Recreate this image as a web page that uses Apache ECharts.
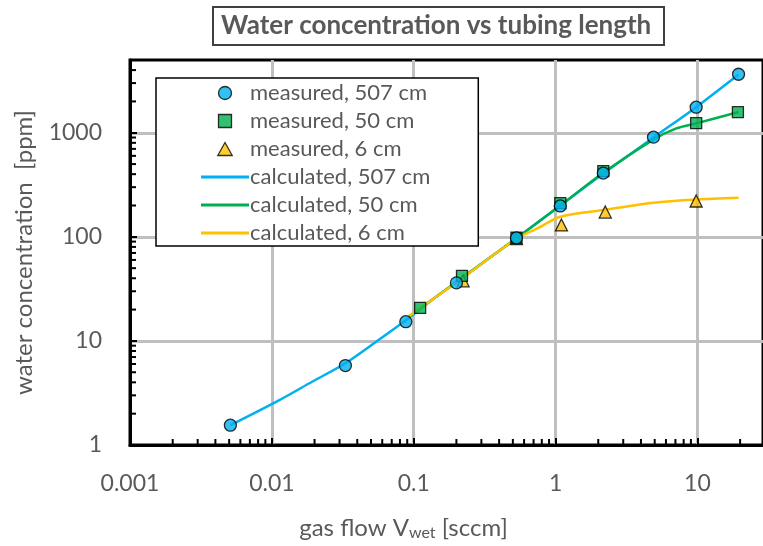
<!DOCTYPE html>
<html><head><meta charset="utf-8">
<script src="https://cdn.jsdelivr.net/npm/echarts@6/dist/echarts.min.js"></script>
<style>html,body{margin:0;padding:0;background:#fff}#c{width:763px;height:546px}</style>
</head><body><div id="c"></div>
<script>
// ---- data ----
const xTickLabels = ['0.001', '0.01', '0.1', '1', '10'];
const yTickLabels = ['1', '10', '100', '1000'];

const meas507 = [[0.0051,1.55],[0.033,5.8],[0.088,15.3],[0.2,36.1],[0.53,97.6],[1.08,198],[2.17,410],[4.9,907],[9.8,1760],[19.5,3650]];
const meas50  = [[0.111,20.8],[0.219,42.2],[0.53,98],[1.08,211],[2.17,428],[9.8,1236],[19.3,1577]];
const meas6   = [[0.223,37.8],[0.53,96],[1.1,130],[2.24,173],[9.8,221]];

const calc507 = [[0.0051,1.55],[0.0113,2.7],[0.0192,4.05],[0.033,6.1],[0.0565,10.2],[0.088,15.8],[0.133,24.5],[0.2,36.5],[0.53,97],[1.08,200],[2.17,405],[4.9,900],[9.8,1760],[19.5,3620]];
const calc50  = [[0.0916,17.1],[0.111,20.5],[0.2,37],[0.53,97],[1.08,200],[2.17,412],[4.9,860],[7.1,1100],[9.8,1230],[19.5,1580]];
const calc6   = [[0.0916,17.1],[0.2,36.5],[0.53,96],[0.75,121],[1.08,156],[2.17,181],[4.9,213],[9.8,229],[19.5,238]];

const seriesNames = ['measured, 507 cm','measured, 50 cm','measured, 6 cm','calculated, 507 cm','calculated, 50 cm','calculated, 6 cm'];

// minor tick values (2..9 per decade)
const xMinor = [], yMinor = [];
[0.001,0.01,0.1,1,10].forEach(d => { for (let k=2;k<=9;k++){ const v=+(d*k).toPrecision(6); if (v<29) xMinor.push([v,1]); } });
[1,10,100,1000].forEach(d => { for (let k=2;k<=9;k++){ const v=d*k; if (v<5000) yMinor.push([0.001,v]); } });

const FONT = 'Lato';
const GRAY = '#595959';
const BLUE = '#00b0f0', GREEN = '#00b050', YEL = '#ffc000';
const SQUARE = 'path://M0,0H10V10H0Z';
const TRI = 'path://M5,0L10,9L0,9Z';
const BAR = 'path://M0,0H48V3H0Z';

const chart = echarts.init(document.getElementById('c'));
const fmt = arr => v => { const s = String(+(+v).toPrecision(6)); return arr.indexOf(s) >= 0 ? s : ''; };
const mk = { borderColor: '#000', borderWidth: 1.3 };

chart.setOption({
  animation: false,
  textStyle: { fontFamily: FONT },
  title: {
    text: 'Water concentration vs tubing length',
    left: 213, top: 7,
    padding: [6, 13, 6, 8],
    borderColor: '#404040', borderWidth: 2,
    textStyle: { fontFamily: FONT, fontSize: 26, fontWeight: 'bold', color: GRAY }
  },
  grid: { left: 130, right: -4, top: 60, bottom: 100, show: true, borderColor: '#000', borderWidth: 3, backgroundColor: 'transparent' },
  legend: {
    left: 156, top: 78, orient: 'vertical',
    padding: [4, 48, 2, 45],
    itemWidth: 48, itemHeight: 13, itemGap: 6,
    borderColor: '#000', borderWidth: 1.5, backgroundColor: '#fff',
    selectedMode: false,
    data: [
      { name: seriesNames[0], icon: 'circle', itemStyle: Object.assign({ color: BLUE }, mk) },
      { name: seriesNames[1], icon: SQUARE, itemStyle: Object.assign({ color: GREEN }, mk) },
      { name: seriesNames[2], icon: TRI, itemStyle: Object.assign({ color: YEL }, mk) },
      { name: seriesNames[3], icon: BAR, itemStyle: { color: BLUE, borderWidth: 0 } },
      { name: seriesNames[4], icon: BAR, itemStyle: { color: GREEN, borderWidth: 0 } },
      { name: seriesNames[5], icon: BAR, itemStyle: { color: YEL, borderWidth: 0 } }
    ],
    textStyle: { fontFamily: FONT, fontSize: 22, lineHeight: 22, color: GRAY, padding: [0,0,0,-4] }
  },
  xAxis: {
    type: 'log', logBase: 10, min: 0.001, max: 29,
    name: 'gas flow V{sub|wet} [sccm]', nameLocation: 'middle', nameGap: 70,
    nameTextStyle: { fontFamily: FONT, fontSize: 24, color: GRAY, padding: [0, 86, 0, 0],
      rich: { sub: { fontFamily: FONT, fontSize: 16, color: GRAY, padding: [10, 0, 0, 0] } } },
    axisLine: { show: true, lineStyle: { color: '#000', width: 3 } },
    axisTick: { show: true, inside: true, length: 7, lineStyle: { color: '#000', width: 2 } },
    axisLabel: { fontFamily: FONT, fontSize: 23, color: GRAY, margin: 27, showMaxLabel: false, formatter: fmt(xTickLabels) },
    splitLine: { show: true, showMaxLine: false, showMinLine: false, lineStyle: { color: '#bfbfbf', width: 3 } }
  },
  yAxis: {
    type: 'log', logBase: 10, min: 1, max: 5000,
    name: 'water concentration  [ppm]', nameLocation: 'middle', nameGap: 94,
    nameTextStyle: { fontFamily: FONT, fontSize: 24, color: GRAY },
    axisLine: { show: true, lineStyle: { color: '#000', width: 3 } },
    axisTick: { show: true, inside: true, length: 7, lineStyle: { color: '#000', width: 2 } },
    axisLabel: { fontFamily: FONT, fontSize: 23, color: GRAY, margin: 28, showMaxLabel: false, formatter: fmt(yTickLabels) },
    splitLine: { show: true, showMaxLine: false, showMinLine: false, lineStyle: { color: '#bfbfbf', width: 3 } }
  },
  series: [
    { name: seriesNames[0], type: 'scatter', data: meas507, symbol: 'circle', symbolSize: 12, z: 6,
      itemStyle: Object.assign({ color: BLUE }, mk) },
    { name: seriesNames[1], type: 'scatter', data: meas50, symbol: 'rect', symbolSize: 11, z: 5,
      itemStyle: Object.assign({ color: GREEN }, mk) },
    { name: seriesNames[2], type: 'scatter', data: meas6, symbol: 'triangle', symbolSize: 12, z: 4,
      itemStyle: Object.assign({ color: YEL }, mk) },
    { name: seriesNames[3], type: 'line', data: calc507, smooth: 0.3, symbol: 'none', z: 3,
      lineStyle: { color: BLUE, width: 2.5 }, itemStyle: { color: BLUE } },
    { name: seriesNames[4], type: 'line', data: calc50, smooth: 0.3, symbol: 'none', z: 3,
      lineStyle: { color: GREEN, width: 2.5 }, itemStyle: { color: GREEN } },
    { name: seriesNames[5], type: 'line', data: calc6, smooth: 0.3, symbol: 'none', z: 3,
      lineStyle: { color: YEL, width: 2.5 }, itemStyle: { color: YEL } },
    { type: 'custom', data: xMinor, clip: false, z: 7, silent: true,
      renderItem: (p, api) => { const pt = api.coord([api.value(0), api.value(1)]);
        return { type: 'line', shape: { x1: pt[0], y1: pt[1], x2: pt[0], y2: pt[1] - 6 }, style: { stroke: '#000', lineWidth: 2 } }; } },
    { type: 'custom', data: yMinor, clip: false, z: 7, silent: true,
      renderItem: (p, api) => { const pt = api.coord([api.value(0), api.value(1)]);
        return { type: 'line', shape: { x1: pt[0], y1: pt[1], x2: pt[0] + 6, y2: pt[1] }, style: { stroke: '#000', lineWidth: 2 } }; } }
  ]
});
</script></body></html>
